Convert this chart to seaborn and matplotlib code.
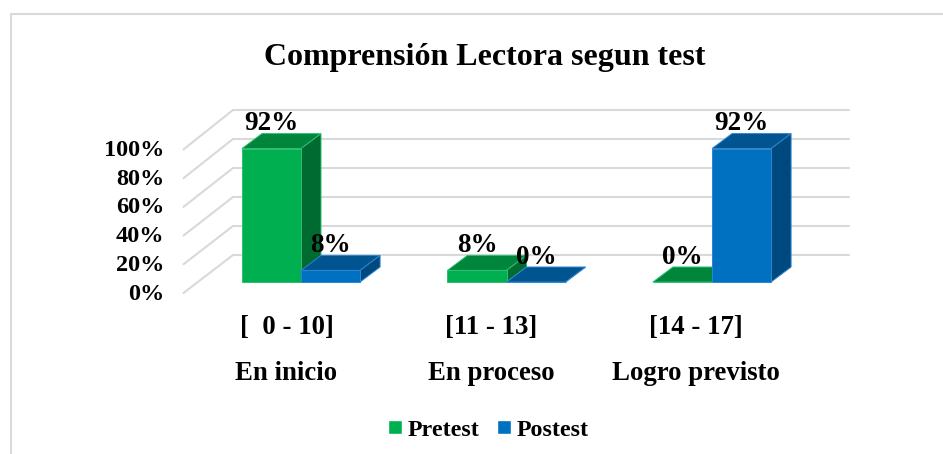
import matplotlib
matplotlib.use("Agg")
import matplotlib.pyplot as plt
from matplotlib.lines import Line2D
from matplotlib.patches import Polygon
import pandas as pd
import seaborn as sns

categories = ["[  0 - 10]", "[11 - 13]", "[14 - 17]"]
levels = ["En inicio", "En proceso", "Logro previsto"]
pretest = [92, 8, 0]
postest = [8, 0, 92]
y_ticks = [0, 20, 40, 60, 80, 100]
y_labels = ["0%", "20%", "40%", "60%", "80%", "100%"]
title = "Comprensión Lectora segun test"

W, H = 943, 454
sns.set_theme(style="white")
plt.rcParams["font.family"] = ["Liberation Serif", "DejaVu Serif"]
plt.rcParams["font.weight"] = "bold"
plt.rcParams["text.color"] = "black"

df = pd.DataFrame({
    "cat": categories * 2,
    "serie": ["Pretest"] * 3 + ["Postest"] * 3,
    "valor": pretest + postest,
})

fig = plt.figure(figsize=(W / 100, H / 100), dpi=100, facecolor="white")
# axes occupies the pixel box of the pseudo-3D wall
L, R, T, B = 183, 849, 110, 293
ax = fig.add_axes([L / W, 1 - B / H, (R - L) / W, (B - T) / H])

px_x = 205.5          # pixels per category
px_y = 1.45           # pixels per percentage point
x0, y0 = 301, 282     # pixel of category 0 / value 0 on the bars' front plane

pal = {"Pretest": "#00B050", "Postest": "#0070C0"}
sns.barplot(data=df, x="cat", y="valor", hue="serie", palette=pal, hue_order=["Pretest", "Postest"],
            width=0.575, gap=0, saturation=1, ax=ax, legend=True, native_scale=False)
ax.set_xlim((L - x0) / px_x, (R - x0) / px_x)
ax.set_ylim((y0 - B) / px_y, (y0 - T) / px_y)
for s in ax.spines.values():
    s.set_visible(False)
ax.set_xlabel("")
ax.set_ylabel("")
ax.grid(False)
ax.patch.set_alpha(0)

# wall: back-plane gridlines and diagonal side-wall lines
grid_c = "#d9d9d9"
back_off = (y0 - 255) / px_y
front_off = (y0 - 293) / px_y
for v in y_ticks:
    ax.plot([(233 - x0) / px_x, (849 - x0) / px_x], [v + back_off] * 2, color=grid_c, lw=1.5, zorder=1, clip_on=False)
    ax.plot([(183.5 - x0) / px_x, (233 - x0) / px_x], [v * 0.99 + front_off, v + back_off], color=grid_c, lw=1.5, zorder=1, clip_on=False)

# depth faces derived from each seaborn bar
dx, dy = 20 / px_x, 15 / px_y
shades = {0: ("#00853C", "#006B30", "#2CC070"), 1: ("#00548F", "#00497E", "#2A86D0")}
bars = []
for i, cont in enumerate(ax.containers):
    for p in cont.patches:
        bars.append((p.get_x(), i, p))
z = 2
for _, i, p in sorted(bars, key=lambda b: b[0]):
    x, w, h = p.get_x(), p.get_width(), p.get_height()
    top, side, edge = shades[i]
    ax.add_patch(Polygon([(x, h), (x + w, h), (x + w + dx, h + dy), (x + dx, h + dy)],
                         closed=True, fc=top, ec=edge, lw=0.7, zorder=z))
    ax.add_patch(Polygon([(x + w, 0), (x + w + dx, dy), (x + w + dx, h + dy), (x + w, h)],
                         closed=True, fc=side, ec=edge, lw=0.7, zorder=z))
    p.set_zorder(z + 1)
    p.set_edgecolor(edge)
    p.set_linewidth(0.7)
    z += 2

for cont, vals in zip(ax.containers, (pretest, postest)):
    ax.bar_label(cont, labels=[f"{v}%" for v in vals], padding=9, fontsize=19.6, fontweight="bold",
                 color="black", zorder=50)

ax.set_yticks([v * 0.99 + (y0 - 291.5) / px_y for v in y_ticks], y_labels)
ax.tick_params(axis="y", length=0, pad=13.5, labelsize=17.5, labelcolor="black")
ax.set_xticks([i * 204.7 / px_x - 14.5 / px_x for i in range(3)], [f"{c}\n{l}" for c, l in zip(categories, levels)])
ax.tick_params(axis="x", length=0, pad=15.5, labelsize=19.3, labelcolor="black")
for t in ax.get_xticklabels():
    t.set_linespacing(2.12)
    t.set_fontweight("bold")
for t in ax.get_yticklabels():
    t.set_fontweight("bold")

leg = ax.legend(loc="center", bbox_to_anchor=(488.5 / W, 1 - 430 / H), bbox_transform=fig.transFigure,
                ncol=2, frameon=False, fontsize=17.3, handlelength=0.55, handleheight=0.55,
                handletextpad=0.25, columnspacing=0.75, borderpad=0, title=None)
for t in leg.get_texts():
    t.set_fontweight("bold")
    t.set_color("black")

fig.text(484.5 / W, 1 - 58 / H, title, ha="center", va="center", fontsize=23, fontweight="bold", color="black")

# outer chart frame, clipped by the image on two sides
fig.add_artist(Line2D([11 / W, 1], [1 - 14 / H, 1 - 14 / H], color=grid_c, lw=1.5))
fig.add_artist(Line2D([11 / W, 11 / W], [0, 1 - 14 / H], color=grid_c, lw=1.5))

fig.savefig("out.png", dpi=100, facecolor="white")
